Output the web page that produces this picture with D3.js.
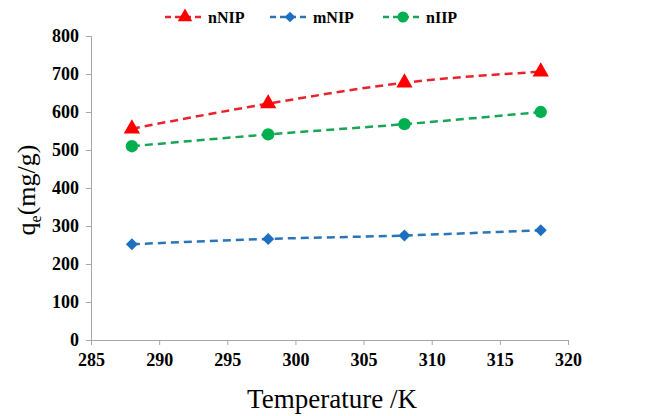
<!DOCTYPE html>
<html>
<head>
<meta charset="utf-8">
<script src="https://cdn.jsdelivr.net/npm/d3@7"></script>
<style>
  body { margin: 0; background: #fff; }
  text { font-family: "Liberation Serif", "Times New Roman", serif; }
</style>
</head>
<body>
<svg width="645" height="416"></svg>
<script>
// temperatures (K) and adsorption capacities (mg/g)
const temps = [288, 298, 308, 318];
const nNIP = [556, 622, 677, 706];
const mNIP = [252, 266, 275, 289];
const nIIP = [510, 541, 568, 600];
const xTicks = [285, 290, 295, 300, 305, 310, 315, 320];
const yTicks = [0, 100, 200, 300, 400, 500, 600, 700, 800];

const series = [
  { name: 'nNIP', values: nNIP, color: '#ff0000', line: '#e8232b', shape: d3.symbolTriangle, size: 115, rot: 0 },
  { name: 'mNIP', values: mNIP, color: '#1f6fc0', line: '#2a74b8', shape: d3.symbolSquare, size: 72, rot: 45 },
  { name: 'nIIP', values: nIIP, color: '#00b050', line: '#1aa556', shape: d3.symbolCircle, size: 120, rot: 0 },
];

const svg = d3.select('svg');
const x = d3.scaleLinear().domain([285, 320]).range([91, 568]);
const y = d3.scaleLinear().domain([0, 800]).range([340, 36]);

// axes
const xAxis = svg.append('g')
  .attr('transform', `translate(0, ${y(0)})`)
  .call(d3.axisBottom(x).tickValues(xTicks).tickSize(5).tickPadding(8));
const yAxis = svg.append('g')
  .attr('transform', `translate(${x(285)}, 0)`)
  .call(d3.axisLeft(y).tickValues(yTicks).tickSize(5).tickPadding(7));

[xAxis, yAxis].forEach((g) => {
  g.attr('font-family', '"Liberation Serif", serif')
    .attr('font-size', 18)
    .attr('font-weight', 'bold');
  g.select('.domain').attr('stroke', '#a6a6a6');
  g.selectAll('.tick line').attr('stroke', '#a6a6a6');
  g.selectAll('.tick text').attr('fill', '#000');
});

// lines and markers
const line = d3.line()
  .x((d, i) => x(temps[i]))
  .y((d) => y(d))
  .curve(d3.curveMonotoneX);

series.forEach((s) => {
  svg.append('path')
    .datum(s.values)
    .attr('fill', 'none')
    .attr('stroke', s.line)
    .attr('stroke-width', 2.5)
    .attr('stroke-dasharray', '8,5')
    .attr('d', line);
  svg.selectAll(null)
    .data(s.values)
    .join('path')
    .attr('transform', (d, i) => `translate(${x(temps[i])}, ${y(d)}) rotate(${s.rot})`)
    .attr('d', d3.symbol().type(s.shape).size(s.size))
    .attr('fill', s.color);
});

// legend
const legendX = [165, 270, 383];
series.forEach((s, i) => {
  const g = svg.append('g').attr('transform', `translate(${legendX[i]}, 17)`);
  g.append('line')
    .attr('x1', 0).attr('x2', 40)
    .attr('stroke', s.line)
    .attr('stroke-width', 2.5)
    .attr('stroke-dasharray', '6,4');
  g.append('path')
    .attr('transform', `translate(20, 0) rotate(${s.rot})`)
    .attr('d', d3.symbol().type(s.shape).size(s.size * 0.8))
    .attr('fill', s.color);
  g.append('text')
    .attr('x', 43).attr('y', 5.5)
    .style('font-weight', 'bold')
    .style('font-size', '16px')
    .text(s.name);
});

// axis titles
svg.append('text')
  .attr('x', 332).attr('y', 408)
  .attr('text-anchor', 'middle')
  .style('font-size', '27px')
  .text('Temperature /K');

const yt = svg.append('text')
  .attr('transform', 'translate(35, 190) rotate(-90)')
  .attr('text-anchor', 'middle')
  .style('font-size', '26px');
yt.append('tspan').text('q');
yt.append('tspan').attr('dy', 6).style('font-size', '16px').text('e');
yt.append('tspan').attr('dy', -6).text('(mg/g)');
</script>
</body>
</html>
